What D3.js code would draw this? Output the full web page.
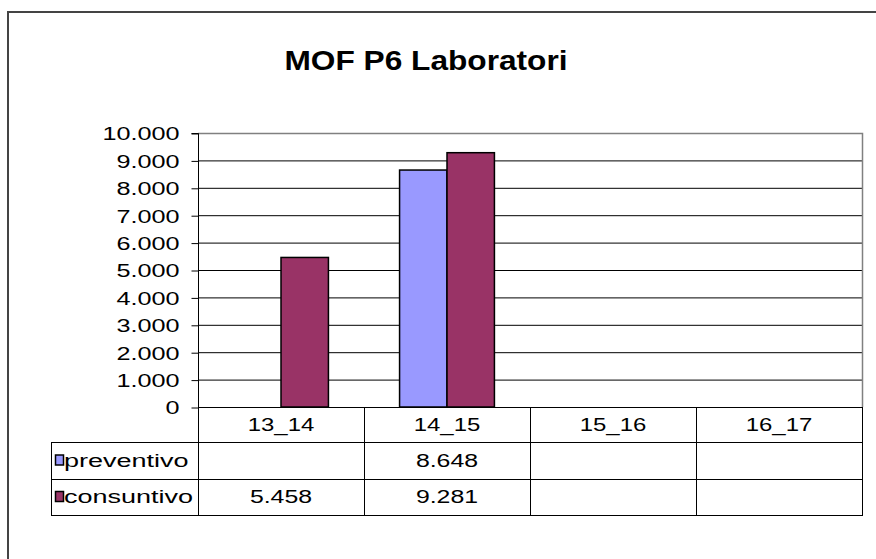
<!DOCTYPE html>
<html>
<head>
<meta charset="utf-8">
<script src="https://cdn.jsdelivr.net/npm/d3@7"></script>
<style>
  html, body { margin: 0; padding: 0; background: #fff; }
  svg { display: block; }
  text { font-family: "Liberation Sans", Arial, sans-serif; fill: #000; }
</style>
</head>
<body>
<div id="chart"></div>
<script>
// ---- data ----
const title = "MOF P6 Laboratori";
const categories = ["13_14", "14_15", "15_16", "16_17"];
const seriesNames = ["preventivo", "consuntivo"];
const preventivo = [null, 8648, null, null];
const consuntivo = [5458, 9281, null, null];
const yTicks = [0, 1000, 2000, 3000, 4000, 5000, 6000, 7000, 8000, 9000, 10000];
const seriesColors = ["#9999FF", "#993366"];

// ---- layout ----
const W = 876, H = 559;
const plot = { left: 198, right: 862, top: 133, bottom: 407 };
const tableLeft = 51;
const rowBottoms = [442, 479, 515];

const svg = d3.select("#chart").append("svg").attr("width", W).attr("height", H);

const loc = d3.formatLocale({ decimal: ",", thousands: ".", grouping: [3], currency: ["", "€"] });
const fmt = loc.format(",");

function stretch(sel, k) {
  sel.each(function () {
    const n = this.getComputedTextLength();
    d3.select(this).attr("textLength", n * k).attr("lengthAdjust", "spacingAndGlyphs");
  });
}

// outer frame
svg.append("path")
  .attr("d", `M8,${H + 5} L8,12 L${W + 5},12`)
  .attr("fill", "none").attr("stroke", "#444").attr("stroke-width", 2);

// title
const t = svg.append("text")
  .attr("x", 426).attr("y", 70)
  .attr("text-anchor", "middle")
  .style("font-size", "28px").style("font-weight", "bold")
  .text(title);
stretch(t, 1.13);

const x = d3.scaleBand().domain(categories).range([plot.left, plot.right]).paddingInner(0).paddingOuter(0);
const x1 = d3.scaleBand().domain(seriesNames).range([0, x.bandwidth()]).paddingInner(0).paddingOuter(0.75);
const y = d3.scaleLinear().domain([0, 10000]).range([plot.bottom, plot.top]);

// gridlines
svg.append("g").selectAll("line").data(yTicks.filter(d => d > 0 && d < 10000)).join("line")
  .attr("x1", plot.left).attr("x2", plot.right)
  .attr("y1", d => y(d) + 0.5).attr("y2", d => y(d) + 0.5)
  .attr("stroke", "#000").attr("stroke-width", 1);

// plot area border top/right (gray)
svg.append("path")
  .attr("d", `M${plot.left},${y(10000) + 0.5} L${plot.right + 0.5},${y(10000) + 0.5} L${plot.right + 0.5},${plot.bottom}`)
  .attr("fill", "none").attr("stroke", "#808080").attr("stroke-width", 1.5);

// bars
const seriesData = [preventivo, consuntivo];
const barG = svg.append("g");
seriesNames.forEach((s, si) => {
  barG.selectAll(null)
    .data(categories.map((c, i) => ({ c, v: seriesData[si][i] })).filter(d => d.v != null))
    .join("rect")
    .attr("x", d => x(d.c) + x1(s))
    .attr("y", d => y(d.v))
    .attr("width", x1.bandwidth())
    .attr("height", d => y(0) - y(d.v))
    .attr("fill", seriesColors[si])
    .attr("stroke", "#000").attr("stroke-width", 1.5);
});

// y axis
const yAxis = d3.axisLeft(y).tickValues(yTicks).tickFormat(fmt).tickSize(7).tickPadding(12);
const ya = svg.append("g").attr("transform", `translate(${plot.left + 0.5},0.5)`).call(yAxis);
ya.select(".domain").attr("stroke", "#000").attr("d", `M-7,${plot.top}H0V${plot.bottom}`);
ya.selectAll(".tick line").attr("stroke", "#000");
ya.selectAll(".tick text").style("font-size", "18px").attr("font-family", null).attr("dy", "0.35em");
stretch(ya.selectAll(".tick text"), 1.4);

// baseline
svg.append("line").attr("x1", plot.left).attr("x2", plot.right + 0.5)
  .attr("y1", plot.bottom + 0.5).attr("y2", plot.bottom + 0.5).attr("stroke", "#000");

// ---- data table ----
const tbl = svg.append("g").attr("stroke", "#000").attr("stroke-width", 1);
const bounds = categories.map(c => x(c)).concat([plot.right]);
tbl.selectAll(null).data(bounds).join("line")
  .attr("x1", d => d + 0.5).attr("x2", d => d + 0.5)
  .attr("y1", plot.bottom).attr("y2", rowBottoms[2] + 0.5);
tbl.append("line").attr("x1", tableLeft + 0.5).attr("x2", tableLeft + 0.5)
  .attr("y1", rowBottoms[0]).attr("y2", rowBottoms[2] + 0.5);
tbl.selectAll(null).data(rowBottoms).join("line")
  .attr("x1", tableLeft).attr("x2", plot.right + 1)
  .attr("y1", d => d + 0.5).attr("y2", d => d + 0.5);

// category labels
const catT = svg.append("g").selectAll("text").data(categories).join("text")
  .attr("x", d => x(d) + x.bandwidth() / 2)
  .attr("y", (plot.bottom + rowBottoms[0]) / 2)
  .attr("dy", "0.35em").attr("text-anchor", "middle")
  .style("font-size", "18px").text(d => d);
stretch(catT, 1.33);

// series rows
seriesNames.forEach((s, si) => {
  const top = si === 0 ? rowBottoms[0] : rowBottoms[1];
  const bot = rowBottoms[si + 1];
  const cy = (top + bot) / 2;
  svg.append("rect")
    .attr("x", tableLeft + 4.5).attr("y", cy - 5.5)
    .attr("width", 8).attr("height", 10)
    .attr("fill", seriesColors[si]).attr("stroke", "#000").attr("stroke-width", 1.5);
  const lab = svg.append("text")
    .attr("x", tableLeft + 13).attr("y", cy).attr("dy", "0.35em")
    .style("font-size", "18px").text(s);
  stretch(lab, 1.5);
  const vals = svg.append("g").selectAll("text")
    .data(categories.map((c, i) => ({ c, v: seriesData[si][i] })).filter(d => d.v != null))
    .join("text")
    .attr("x", d => x(d.c) + x.bandwidth() / 2)
    .attr("y", cy).attr("dy", "0.35em").attr("text-anchor", "middle")
    .style("font-size", "18px").text(d => fmt(d.v));
  stretch(vals, 1.38);
});
</script>
</body>
</html>
